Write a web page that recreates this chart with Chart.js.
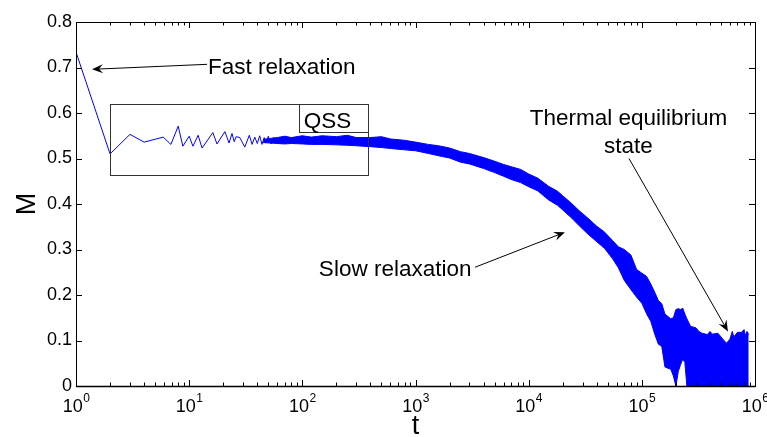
<!DOCTYPE html>
<html>
<head>
<meta charset="utf-8">
<script src="https://cdn.jsdelivr.net/npm/chart.js@4.4.0/dist/chart.umd.min.js"></script>
<style>
  html, body { margin: 0; padding: 0; background: #fff; }
</style>
</head>
<body>
<canvas id="chart" width="767" height="437"></canvas>
<script>
// Early part of M(t): fast drop, then sparse oscillations
const earlyT = [1, 2, 3, 4, 5.9, 6.9, 8, 8.8, 10, 10.8, 12, 13, 16.2, 17.6, 20.7, 22.5, 23.9, 25, 26, 28,
  31, 34, 36, 38, 40, 42, 44, 46, 48, 50, 53, 56];
const earlyM = [0.734, 0.51, 0.553, 0.536, 0.547, 0.531, 0.571, 0.527, 0.549, 0.527, 0.551, 0.523, 0.557, 0.532, 0.559, 0.534, 0.555, 0.537, 0.548, 0.546,
  0.525, 0.551, 0.531, 0.547, 0.533, 0.55, 0.531, 0.546, 0.534, 0.549, 0.532, 0.547];

// Dense noisy part, read as the upper and lower edge of the band
const bandT = [45, 60, 70, 80, 100, 120, 150, 200, 250, 300, 400, 500, 600, 800, 1000, 1300, 1600, 2000, 2500, 3000, 4000,
  5000, 6000, 7000, 8500, 10000, 12000, 15000, 18000, 20000, 24000, 28000, 33000, 40000, 47000, 55000, 62000,
  70000, 80000, 90000, 100000, 110000, 120000, 130000, 140000, 150000, 160000, 170000, 180000, 190000, 200000,
  210000, 220000, 230000, 240000, 250000, 270000, 300000, 320000, 340000, 380000, 400000, 420000, 470000, 520000, 560000,
  600000, 630000, 650000, 700000, 760000, 800000, 820000, 850000, 880000];
const bandHigh = [0.542, 0.546, 0.549, 0.546, 0.55, 0.547, 0.55, 0.548, 0.551, 0.546, 0.546, 0.548, 0.543, 0.54, 0.536, 0.531, 0.528, 0.523, 0.515, 0.511, 0.502,
  0.494, 0.487, 0.482, 0.476, 0.466, 0.457, 0.439, 0.428, 0.418, 0.401, 0.385, 0.37, 0.351, 0.338, 0.32, 0.306,
  0.3, 0.288, 0.256, 0.248, 0.241, 0.224, 0.206, 0.188, 0.181, 0.158, 0.153, 0.148, 0.15, 0.168,
  0.17, 0.168, 0.171, 0.158, 0.148, 0.131, 0.128, 0.12, 0.116, 0.113, 0.12, 0.114, 0.116, 0.103, 0.094,
  0.103, 0.12, 0.108, 0.118, 0.118, 0.124, 0.111, 0.12, 0.113];
const bandLow = [0.535, 0.533, 0.532, 0.533, 0.532, 0.531, 0.531, 0.53, 0.529, 0.528, 0.526, 0.524, 0.522, 0.519, 0.517, 0.511, 0.506, 0.501, 0.492, 0.488, 0.478,
  0.469, 0.461, 0.454, 0.447, 0.438, 0.429, 0.409, 0.397, 0.387, 0.369, 0.352, 0.335, 0.317, 0.302, 0.28, 0.26,
  0.232, 0.212, 0.195, 0.182, 0.159, 0.142, 0.114, 0.092, 0.087, 0.042, 0.039, 0.037, 0.022, 0,
  0.032, 0.047, 0.059, 0.052, 0, 0, 0, 0, 0, 0, 0, 0, 0, 0, 0,
  0, 0, 0, 0, 0, 0, 0, 0, 0];

// Axis ticks
const yTickValues = [0, 0.1, 0.2, 0.3, 0.4, 0.5, 0.6, 0.7, 0.8];
const yTickLabels = ['0', '0.1', '0.2', '0.3', '0.4', '0.5', '0.6', '0.7', '0.8'];
const xTickValues = [1, 10, 100, 1000, 10000, 100000, 1000000];
const xTickExponents = ['0', '1', '2', '3', '4', '5', '6'];

// Annotations (data coordinates: [t, M])
const qssBox = [2, 380, 0.464, 0.62];
const qssLabelBox = [93, 380, 0.558, 0.62];
const qssLabel = ['QSS', 167, 0.566];
const fastLabel = ['Fast relaxation', 14.67, 0.685];
const fastArrow = [14.4, 0.707, 1.385, 0.696];
const slowLabel = ['Slow relaxation', 140, 0.2415];
const slowArrow = [3360, 0.261, 20900, 0.338];
const thermalLabel = ['Thermal equilibrium', 76200, 0.573];
const stateLabel = ['state', 76200, 0.511];
const thermalArrow = [77000, 0.50, 577000, 0.12];

const FONT = '"Liberation Sans", Arial, Helvetica, sans-serif';
const BLUE = '#0000ff';

const toPoints = (xs, ys) => xs.map((t, i) => ({ x: t, y: ys[i] }));

// Filled arrow head in the style of MATLAB annotations
const drawArrow = (ctx, x0, y0, x1, y1) => {
  const ang = Math.atan2(y1 - y0, x1 - x0);
  const len = 11, half = 4.5, notch = 7;
  ctx.beginPath();
  ctx.moveTo(x0, y0);
  ctx.lineTo(x1 - notch * Math.cos(ang), y1 - notch * Math.sin(ang));
  ctx.stroke();
  const bx = x1 - len * Math.cos(ang), by = y1 - len * Math.sin(ang);
  ctx.beginPath();
  ctx.moveTo(x1, y1);
  ctx.lineTo(bx - half * Math.sin(ang), by + half * Math.cos(ang));
  ctx.lineTo(x1 - notch * Math.cos(ang), y1 - notch * Math.sin(ang));
  ctx.lineTo(bx + half * Math.sin(ang), by - half * Math.cos(ang));
  ctx.closePath();
  ctx.fill();
};

const matlabPlugin = {
  id: 'matlabFrame',
  afterDatasetsDraw(chart) {
    const { ctx, chartArea: a, scales: { x, y } } = chart;
    const px = (t) => x.getPixelForValue(t);
    const py = (m) => y.getPixelForValue(m);
    ctx.save();
    ctx.strokeStyle = '#000';
    ctx.fillStyle = '#000';
    ctx.lineWidth = 1;

    // inward ticks, top and bottom (major + minor)
    ctx.beginPath();
    for (let d = 0; d < 6; d++) {
      for (let k = 1; k <= 9; k++) {
        const xx = Math.round(px(Math.pow(10, d) * k)) + 0.5;
        const len = k === 1 ? 6 : 3.5;
        ctx.moveTo(xx, a.bottom); ctx.lineTo(xx, a.bottom - len);
        ctx.moveTo(xx, a.top); ctx.lineTo(xx, a.top + len);
      }
    }
    // inward ticks, left and right
    yTickValues.forEach(v => {
      const yy = Math.round(py(v)) + 0.5;
      ctx.moveTo(a.left, yy); ctx.lineTo(a.left + 6, yy);
      ctx.moveTo(a.right, yy); ctx.lineTo(a.right - 6, yy);
    });
    ctx.stroke();

    // frame
    ctx.strokeRect(Math.round(a.left) + 0.5, Math.round(a.top) + 0.5,
      Math.round(a.right - a.left), Math.round(a.bottom - a.top));
    ctx.lineWidth = 1.5;
    ctx.beginPath();
    ctx.moveTo(a.left, Math.round(a.bottom) + 0.5);
    ctx.lineTo(a.right, Math.round(a.bottom) + 0.5);
    ctx.stroke();
    ctx.lineWidth = 1;

    // x tick labels: 10 with superscript exponent
    ctx.textBaseline = 'alphabetic';
    ctx.textAlign = 'left';
    xTickValues.forEach((v, i) => {
      ctx.font = '18px ' + FONT;
      const wBase = ctx.measureText('10').width;
      ctx.font = '12px ' + FONT;
      const wExp = ctx.measureText(xTickExponents[i]).width;
      const left = px(v) - (wBase + wExp) / 2;
      ctx.font = '18px ' + FONT;
      ctx.fillText('10', left, a.bottom + 26);
      ctx.font = '12px ' + FONT;
      ctx.fillText(xTickExponents[i], left + wBase + 0.5, a.bottom + 16);
    });

    // axis titles
    ctx.font = '27px ' + FONT;
    ctx.textAlign = 'center';
    ctx.fillText('t', (a.left + a.right) / 2, 434);
    ctx.save();
    ctx.translate(35, (a.top + a.bottom) / 2);
    ctx.rotate(-Math.PI / 2);
    ctx.fillText('M', 0, 0);
    ctx.restore();

    // QSS boxes
    ctx.strokeStyle = '#333';
    [qssBox, qssLabelBox].forEach(b => {
      const x0 = Math.round(px(b[0])) + 0.5, x1 = Math.round(px(b[1])) + 0.5;
      const y0 = Math.round(py(b[3])) + 0.5, y1 = Math.round(py(b[2])) + 0.5;
      ctx.strokeRect(x0, y0, x1 - x0, y1 - y0);
    });
    ctx.strokeStyle = '#000';

    // text annotations
    ctx.font = '22.5px ' + FONT;
    ctx.textAlign = 'center';
    [qssLabel, thermalLabel, stateLabel].forEach(l => ctx.fillText(l[0], px(l[1]), py(l[2])));
    ctx.textAlign = 'left';
    [fastLabel, slowLabel].forEach(l => ctx.fillText(l[0], px(l[1]), py(l[2])));

    // arrows
    [fastArrow, slowArrow, thermalArrow].forEach(r =>
      drawArrow(ctx, px(r[0]), py(r[1]), px(r[2]), py(r[3])));

    ctx.restore();
  }
};

new Chart(document.getElementById('chart').getContext('2d'), {
  type: 'line',
  data: {
    datasets: [
      {
        label: 'band high',
        data: toPoints(bandT, bandHigh),
        borderColor: BLUE,
        backgroundColor: BLUE,
        borderWidth: 1,
        pointRadius: 0,
        tension: 0,
        fill: '+1'
      },
      {
        label: 'band low',
        data: toPoints(bandT, bandLow),
        borderColor: BLUE,
        borderWidth: 1,
        pointRadius: 0,
        tension: 0,
        fill: false
      },
      {
        label: 'early',
        data: toPoints(earlyT, earlyM),
        borderColor: BLUE,
        borderWidth: 1,
        pointRadius: 0,
        tension: 0,
        fill: false
      }
    ]
  },
  options: {
    responsive: false,
    animation: false,
    layout: { padding: { top: 22, right: 12, left: 0, bottom: 0 } },
    plugins: {
      legend: { display: false },
      tooltip: { enabled: false }
    },
    scales: {
      x: {
        type: 'logarithmic',
        min: 1,
        max: 1000000,
        grid: { display: false, drawTicks: false },
        border: { display: false },
        ticks: { display: false },
        afterFit: (s) => { s.height = 51; }
      },
      y: {
        min: 0,
        max: 0.8,
        grid: { display: false, drawTicks: false },
        border: { display: false },
        afterBuildTicks: (s) => { s.ticks = yTickValues.map(v => ({ value: v })); },
        ticks: {
          color: '#000',
          padding: 4,
          font: { size: 18, family: FONT },
          callback: (v) => yTickLabels[yTickValues.indexOf(v)] ?? ''
        },
        afterFit: (s) => { s.width = 76; }
      }
    }
  },
  plugins: [matlabPlugin]
});
</script>
</body>
</html>
